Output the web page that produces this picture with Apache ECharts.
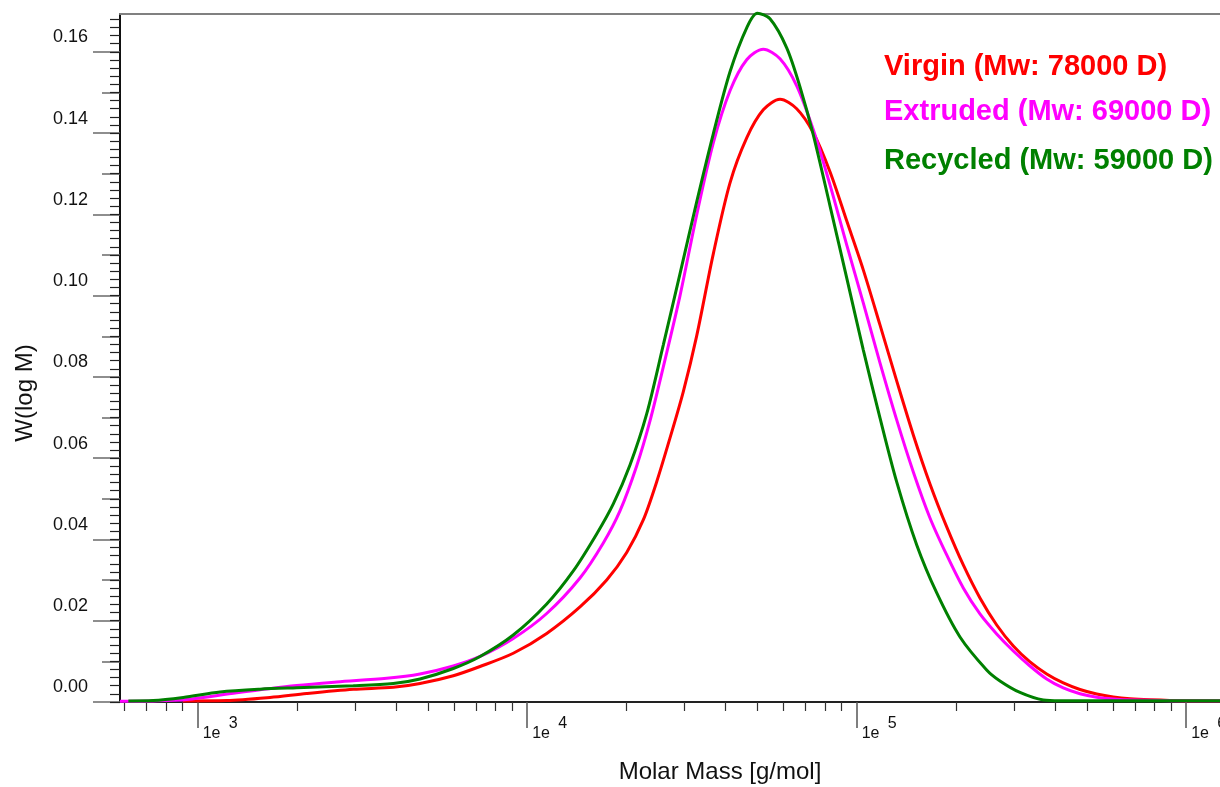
<!DOCTYPE html>
<html>
<head>
<meta charset="utf-8">
<script src="https://cdn.jsdelivr.net/npm/echarts@6/dist/echarts.min.js"></script>
<style>
html,body{margin:0;padding:0;background:#fff;}
#chart{width:1220px;height:787px;}
</style>
</head>
<body>
<div id="chart"></div>
<script>
// ---- Data ----
const seriesNames = ['Virgin (Mw: 78000 D)', 'Extruded (Mw: 69000 D)', 'Recycled (Mw: 59000 D)'];
const seriesColors = ['#ff0000', '#ff00ff', '#008000'];

const virginM = [901, 1225, 1658, 2142, 2967, 3923, 4727, 5967, 7193, 9074, 11462, 14463, 17430, 20045, 22506, 24710, 27130, 29760, 32691, 36713, 41262, 46369, 52060, 58520, 65760, 73843, 82985, 93260, 104713, 117677, 132250, 148540, 166900, 187600, 210620, 236670, 266030, 298770, 335740, 377300, 423650, 476100, 535100, 600800, 675200, 776500, 978000, 1266600];
const virginW = [0.00025, 0.00034, 0.00111, 0.00209, 0.00313, 0.00362, 0.00455, 0.00647, 0.00874, 0.01199, 0.01686, 0.02338, 0.03003, 0.03680, 0.04480, 0.05415, 0.06498, 0.07631, 0.09009, 0.11028, 0.12775, 0.13883, 0.14572, 0.14831, 0.14597, 0.14006, 0.13046, 0.11840, 0.10634, 0.09280, 0.07902, 0.06572, 0.05366, 0.04308, 0.03372, 0.02560, 0.01895, 0.01378, 0.00985, 0.00689, 0.00468, 0.00308, 0.00197, 0.00123, 0.00079, 0.00054, 0.00032, 0.0003];

const extrudedM = [581, 732, 926, 1314, 1998, 2642, 3746, 4727, 5967, 7193, 9074, 11462, 14463, 17022, 19125, 21490, 23590, 25890, 29085, 32691, 36713, 41262, 46369, 52060, 58520, 65760, 73843, 82985, 93260, 104713, 117677, 132250, 148540, 166900, 187600, 210620, 236670, 266030, 298770, 335740, 377300, 423650, 476100, 535100, 600800, 689700, 978000, 1266600];
const extrudedW = [0.00017, 0.00025, 0.00062, 0.00229, 0.00406, 0.00492, 0.00583, 0.00689, 0.00886, 0.0112, 0.01563, 0.02178, 0.03052, 0.03914, 0.04702, 0.05809, 0.06917, 0.08246, 0.09994, 0.11988, 0.13760, 0.15040, 0.15803, 0.16062, 0.15828, 0.15163, 0.14080, 0.12726, 0.11249, 0.09822, 0.08345, 0.06942, 0.05662, 0.04529, 0.03618, 0.02806, 0.02166, 0.01674, 0.01255, 0.00886, 0.00566, 0.00345, 0.00202, 0.00118, 0.00074, 0.00049, 0.0003, 0.0003];

const recycledM = [616, 733, 904, 1169, 1546, 1998, 2967, 3923, 4727, 5967, 7193, 9074, 11462, 13802, 16251, 18252, 20512, 23050, 25890, 29085, 32691, 36713, 41262, 46369, 49924, 54562, 61320, 67288, 73843, 82985, 93260, 104713, 117677, 132250, 152125, 174985, 205830, 248000, 272200, 313000, 368400, 414000, 1266600];
const recycledW = [0.00025, 0.00034, 0.00111, 0.00246, 0.00315, 0.0035, 0.00399, 0.00455, 0.00566, 0.00825, 0.0112, 0.01649, 0.02412, 0.03225, 0.04135, 0.04874, 0.05834, 0.07089, 0.08788, 0.10535, 0.12308, 0.13982, 0.15508, 0.16591, 0.16948, 0.16812, 0.16098, 0.15138, 0.13956, 0.12209, 0.10437, 0.08665, 0.06991, 0.05415, 0.03865, 0.02683, 0.016, 0.00788, 0.00517, 0.00234, 0.00049, 0.0003, 0.0003];

// ---- Axis ticks / labels ----
const xMin = 581, xMax = 1266600;
const xTickValues = [1000, 10000, 100000, 1000000];
const xTickExponents = ['3', '4', '5', '6'];
const yMin = 0, yMax = 0.1693;
const yTickValues = [0, 0.02, 0.04, 0.06, 0.08, 0.10, 0.12, 0.14, 0.16];

const xMinorTicks = [];
[100, 1000, 10000, 100000].forEach(d => { for (let k = 2; k <= 9; k++) { const v = k * d; if (v >= xMin && v <= xMax) xMinorTicks.push(v); } });
const yMidTicks = [], yMinorTicks = [];
for (let i = 0; i <= 84; i++) { const v = +(i * 0.002).toFixed(3); if (v <= yMax) yMinorTicks.push(v); }
for (let i = 0; i < 8; i++) yMidTicks.push(+(0.01 + i * 0.02).toFixed(2));

const zip = (a, b) => a.map((v, i) => [v, b[i]]);
const seriesData = [zip(virginM, virginW), zip(extrudedM, extrudedW), zip(recycledM, recycledW)];

const FONT = '"Liberation Sans", Arial, Helvetica, sans-serif';
const chart = echarts.init(document.getElementById('chart'), null, { renderer: 'canvas' });

const expFor = (v) => {
  let idx = 0, best = Infinity;
  xTickValues.forEach((t, i) => { const d = Math.abs(Math.log10(v) - Math.log10(t)); if (d < best) { best = d; idx = i; } });
  return xTickExponents[idx];
};

const legendTops = [50, 95, 144];
const option = {
  backgroundColor: '#ffffff',
  animation: false,
  grid: { left: 120, right: 0, top: 14, bottom: 85, containLabel: false, outerBoundsMode: 'none' },
  legend: seriesNames.map((n, i) => ({
    data: [{ name: n, textStyle: { color: seriesColors[i] } }],
    left: 878, top: legendTops[i], padding: 0,
    itemWidth: 0, itemHeight: 0, selectedMode: false,
    textStyle: { fontSize: 29, fontWeight: 'bold', fontFamily: FONT, lineHeight: 34 }
  })),
  xAxis: [
    {
      type: 'log', logBase: 10, min: xMin, max: xMax, position: 'bottom',
      axisLine: { show: true, onZero: false, lineStyle: { color: '#222', width: 2 } },
      axisTick: { show: true, customValues: xTickValues, length: 26, lineStyle: { color: '#555', width: 1.5 } },
      axisLabel: {
        show: true, customValues: xTickValues, margin: 17, align: 'left',
        formatter: (v) => '{s|' + expFor(v) + '}\n{b|1e}',
        rich: {
          b: { fontSize: 16, fontFamily: FONT, color: '#111', lineHeight: 10, padding: [0, 0, 0, 5] },
          s: { fontSize: 16, fontFamily: FONT, color: '#111', lineHeight: 10, padding: [0, 0, 0, 31] }
        }
      },
      splitLine: { show: false }, minorTick: { show: false }
    },
    {
      type: 'log', logBase: 10, min: xMin, max: xMax, position: 'bottom',
      axisLine: { show: false, onZero: false },
      axisTick: { show: true, customValues: xMinorTicks, length: 9, lineStyle: { color: '#333', width: 1.2 } },
      axisLabel: { show: false }, splitLine: { show: false }
    },
    {
      type: 'log', logBase: 10, min: xMin, max: xMax, position: 'top',
      axisLine: { show: true, onZero: false, lineStyle: { color: '#808080', width: 2 } },
      axisTick: { show: false }, axisLabel: { show: false }, splitLine: { show: false }
    }
  ],
  yAxis: [
    {
      type: 'value', min: yMin, max: yMax, position: 'left',
      axisLine: { show: true, onZero: false, lineStyle: { color: '#111', width: 2 } },
      axisTick: { show: true, customValues: yTickValues, length: 27, lineStyle: { color: '#6a6a6a', width: 1.5 } },
      axisLabel: {
        show: true, customValues: yTickValues, margin: 32, fontSize: 18, fontFamily: FONT, color: '#111',
        verticalAlign: 'bottom', lineHeight: 29,
        formatter: (v) => v.toFixed(2)
      },
      splitLine: { show: false }
    },
    {
      type: 'value', min: yMin, max: yMax, position: 'left',
      axisLine: { show: false, onZero: false },
      axisTick: { show: true, customValues: yMidTicks, length: 18, lineStyle: { color: '#6a6a6a', width: 1.5 } },
      axisLabel: { show: false }, splitLine: { show: false }
    },
    {
      type: 'value', min: yMin, max: yMax, position: 'left',
      axisLine: { show: false, onZero: false },
      axisTick: { show: true, customValues: yMinorTicks, length: 10, lineStyle: { color: '#222', width: 1.2 } },
      axisLabel: { show: false }, splitLine: { show: false }
    }
  ],
  graphic: [
    { type: 'text', x: 25, y: 393, rotation: Math.PI / 2,
      style: { text: 'W(log M)', font: '24px ' + FONT, fill: '#111', align: 'center', verticalAlign: 'middle' } },
    { type: 'text', x: 720, y: 772,
      style: { text: 'Molar Mass [g/mol]', font: '24px ' + FONT, fill: '#111', align: 'center', verticalAlign: 'middle' } }
  ],
  series: seriesNames.map((n, i) => ({
    name: n, type: 'line', xAxisIndex: 0, yAxisIndex: 0,
    data: seriesData[i], showSymbol: false, symbol: 'none', smooth: 0.3, clip: false,
    lineStyle: { color: seriesColors[i], width: 3 }, itemStyle: { color: seriesColors[i] }
  }))
};
chart.setOption(option);
</script>
</body>
</html>
